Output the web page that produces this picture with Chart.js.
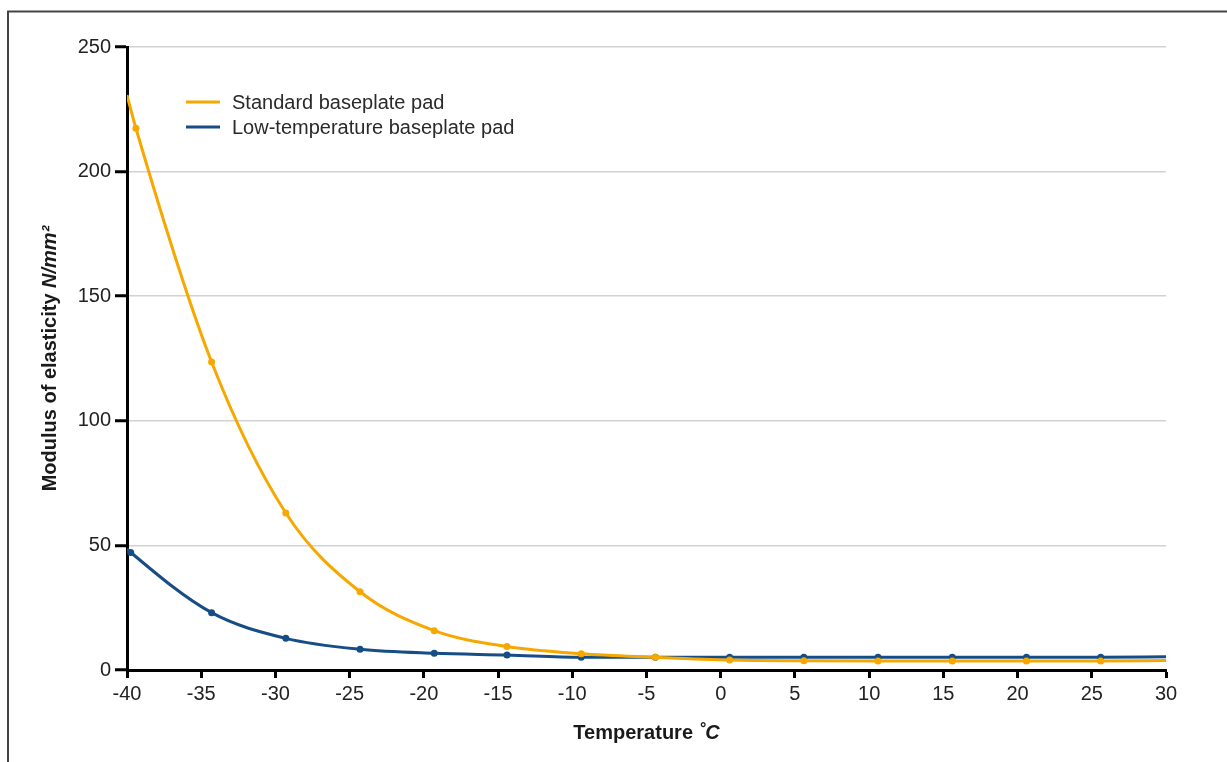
<!DOCTYPE html>
<html>
<head>
<meta charset="utf-8">
<script src="https://cdn.jsdelivr.net/npm/chart.js@4.4.1/dist/chart.umd.min.js"></script>
<style>
  html, body { margin: 0; padding: 0; background: #fff; }
  canvas { display: block; }
</style>
</head>
<body>
<canvas id="c" width="1227" height="762"></canvas>
<script>
// ---- data ----
const stdTemps = [-40, -39.4, -34.3, -29.3, -24.3, -19.3, -14.4, -9.4, -4.4, 0.6, 5.6, 10.6, 15.6, 20.6, 25.6, 30];
const stdValues = [230.7, 217.4, 123.6, 63, 31.4, 15.8, 9.4, 6.5, 5.1, 4.0, 3.7, 3.6, 3.6, 3.6, 3.6, 3.8];
const lowTemps = [-40, -39.75, -34.3, -29.3, -24.3, -19.3, -14.4, -9.4, -4.4, 0.6, 5.6, 10.6, 15.6, 20.6, 25.6, 30];
const lowValues = [48.6, 47.2, 23.0, 12.7, 8.3, 6.7, 6.0, 5.1, 5.1, 5.1, 5.1, 5.1, 5.1, 5.1, 5.1, 5.3];
const seriesNames = ['Standard baseplate pad', 'Low-temperature baseplate pad'];
const xTitleMain = 'Temperature ';
const xTitleUnit = '˚C';
const yTitleMain = 'Modulus of elasticity ';
const yTitleUnit = 'N/mm²';
const xTicksMin = -40, xTicksMax = 30, xStep = 5;
const yTicksMin = 0, yTicksMax = 250, yStep = 50;

const ORANGE = '#F6A800';
const BLUE = '#174D86';
const FONT = '"Liberation Sans", Arial, Helvetica, sans-serif';
const FS = 20;

function pts(xs, ys) { return xs.map((x, i) => ({ x: x, y: ys[i] })); }
function radii(n) { return Array.from({ length: n }, (_, i) => (i === 0 || i === n - 1) ? 0 : 3.5); }

const decor = {
  id: 'decor',
  beforeDraw(chart) {
    const ctx = chart.ctx;
    ctx.save();
    ctx.strokeStyle = '#444';
    ctx.lineWidth = 2;
    ctx.strokeRect(8, 11.5, 1400, 900);
    ctx.restore();
  },
  afterDraw(chart) {
    const ctx = chart.ctx;
    const area = chart.chartArea;
    ctx.save();
    // legend
    const lx = 186, ly = [102, 127];
    chart.data.datasets.forEach((ds, i) => {
      ctx.strokeStyle = ds.borderColor;
      ctx.lineWidth = 3;
      ctx.beginPath();
      ctx.moveTo(lx, ly[i]);
      ctx.lineTo(lx + 34, ly[i]);
      ctx.stroke();
      ctx.fillStyle = '#2a2a2a';
      ctx.font = FS + 'px ' + FONT;
      ctx.textBaseline = 'middle';
      ctx.textAlign = 'left';
      ctx.fillText(ds.label, 232, ly[i] + 1);
    });
    // x title
    const fB = 'bold ' + FS + 'px ' + FONT;
    const fBI = 'italic bold ' + FS + 'px ' + FONT;
    ctx.fillStyle = '#1a1a1a';
    ctx.textBaseline = 'middle';
    ctx.textAlign = 'left';
    ctx.font = fB; const w1 = ctx.measureText(xTitleMain).width;
    ctx.font = fBI; const w2 = ctx.measureText(xTitleUnit).width;
    const cx = (area.left + area.right) / 2;
    let sx = cx - (w1 + w2) / 2;
    ctx.font = fB; ctx.fillText(xTitleMain, sx, 733);
    ctx.font = fBI; ctx.fillText(xTitleUnit, sx + w1, 733);
    // y title
    ctx.translate(50, (area.top + area.bottom) / 2);
    ctx.rotate(-Math.PI / 2);
    ctx.font = fB; const v1 = ctx.measureText(yTitleMain).width;
    ctx.font = fBI; const v2 = ctx.measureText(yTitleUnit).width;
    let sy = -(v1 + v2) / 2;
    ctx.font = fB; ctx.fillText(yTitleMain, sy, 0);
    ctx.font = fBI; ctx.fillText(yTitleUnit, sy + v1, 0);
    ctx.restore();
  }
};

new Chart(document.getElementById('c'), {
  type: 'line',
  data: {
    datasets: [
      {
        label: seriesNames[0],
        data: pts(stdTemps, stdValues),
        borderColor: ORANGE, backgroundColor: ORANGE,
        borderWidth: 3, pointRadius: radii(stdTemps.length),
        pointBorderWidth: 0, cubicInterpolationMode: 'monotone', fill: false
      },
      {
        label: seriesNames[1],
        data: pts(lowTemps, lowValues),
        borderColor: BLUE, backgroundColor: BLUE,
        borderWidth: 3, pointRadius: radii(lowTemps.length),
        pointBorderWidth: 0, cubicInterpolationMode: 'monotone', fill: false
      }
    ]
  },
  options: {
    responsive: false,
    animation: false,
    layout: { padding: { top: 47, right: 61, left: 0, bottom: 0 } },
    plugins: { legend: { display: false }, tooltip: { enabled: false } },
    scales: {
      x: {
        type: 'linear', min: xTicksMin, max: xTicksMax,
        afterFit(s) { s.height = 92; },
        ticks: { stepSize: xStep, color: '#222', font: { size: FS, family: FONT }, padding: 4, maxRotation: 0 },
        grid: { drawOnChartArea: false, color: '#000', tickColor: '#000', tickLength: 8, tickWidth: 3 },
        border: { color: '#000', width: 3 }
      },
      y: {
        min: yTicksMin, max: yTicksMax,
        afterFit(s) { s.width = 127; },
        ticks: { stepSize: yStep, color: '#222', font: { size: FS, family: FONT }, padding: 4 },
        grid: { color: '#d2d2d2', lineWidth: 1.5, tickColor: '#000', tickLength: 12, tickWidth: 3 },
        border: { color: '#000', width: 3 }
      }
    }
  },
  plugins: [decor]
});
</script>
</body>
</html>
